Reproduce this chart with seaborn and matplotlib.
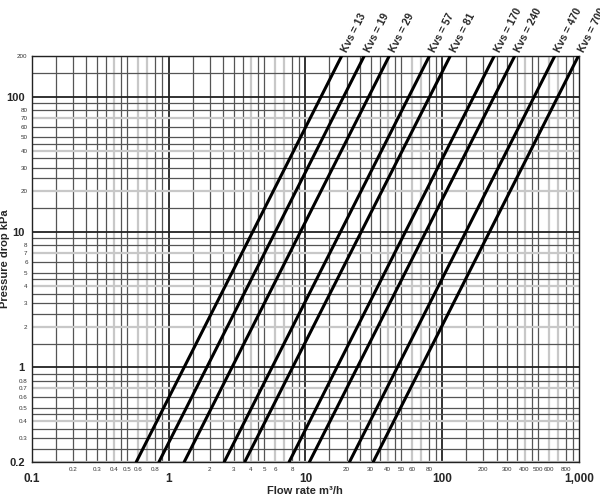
import numpy as np
import pandas as pd
import matplotlib
matplotlib.use("Agg")
import matplotlib.pyplot as plt
import seaborn as sns

# valve curves: Kvs value and flow (m3/h) read at bottom (0.2 kPa) and top (200 kPa)
kvs = [13, 19, 29, 57, 81, 170, 240, 470, 700]
flow_low = [0.58, 0.85, 1.3, 2.55, 3.6, 7.6, 10.7, 21.0, 31.3]
flow_high = [18.4, 26.9, 41.0, 80.6, 114.5, 240.0, 339.0, 665.0, 990.0]
dp_ends = [0.2, 200.0]

x_major = [0.1, 1, 10, 100, 1000]
x_major_labels = ["0.1", "1", "10", "100", "1,000"]
x_minor = [0.2, 0.3, 0.4, 0.5, 0.6, 0.8, 2, 3, 4, 5, 6, 8,
           20, 30, 40, 50, 60, 80, 200, 300, 400, 500, 600, 800]
y_major = [0.2, 1, 10, 100]
y_major_labels = ["0.2", "1", "10", "100"]
y_minor = [0.3, 0.4, 0.5, 0.6, 0.7, 0.8, 2, 3, 4, 5, 6, 7, 8,
           20, 30, 40, 50, 60, 70, 80, 200]

rows = []
for k, lo, hi in zip(kvs, flow_low, flow_high):
    rows.append({"kvs": "Kvs = %d" % k, "flow": lo, "dp": dp_ends[0]})
    rows.append({"kvs": "Kvs = %d" % k, "flow": hi, "dp": dp_ends[1]})
df = pd.DataFrame(rows)

sns.set_style("white")
plt.rcParams["font.family"] = ["Liberation Sans", "DejaVu Sans"]

fig = plt.figure(figsize=(6, 5), dpi=100)
ax = fig.add_axes([0.053, 0.076, 0.912, 0.812])
ax.set_xscale("log")
ax.set_yscale("log")
ax.set_xlim(0.1, 1000)
ax.set_ylim(0.2, 200)

# dense engineering grid
steps = [1, 1.5, 2, 2.5, 3, 3.5, 4, 4.5, 5, 6, 7, 8, 9]
light_x = {4, 6, 7}
light_y = {2, 4, 7}
for dec in [0.1, 1, 10, 100]:
    for s in steps:
        v = dec * s
        if s == 1:
            ax.axvline(v, color="#222222", lw=1.3, zorder=1)
        elif s in light_x:
            ax.axvline(v, color="#c8c8c8", lw=1.6, zorder=1)
        else:
            ax.axvline(v, color="#555555", lw=0.9, zorder=1)
for dec in [0.1, 1, 10, 100]:
    for s in steps:
        v = dec * s
        if v < 0.2 or v > 200:
            continue
        if s == 1:
            ax.axhline(v, color="#222222", lw=1.3, zorder=1)
        elif s in light_y:
            ax.axhline(v, color="#c8c8c8", lw=1.6, zorder=1)
        else:
            ax.axhline(v, color="#555555", lw=0.9, zorder=1)

sns.lineplot(data=df, x="flow", y="dp", hue="kvs", palette=["black"] * len(kvs),
             legend=False, lw=2.2, ax=ax, zorder=3)

ax.set_xticks(x_major)
ax.set_xticklabels(x_major_labels, fontsize=8.5, fontweight="bold")
ax.set_xticks(x_minor, minor=True)
ax.set_xticklabels([("%g" % v) for v in x_minor], minor=True, fontsize=4.5, color="#333333")
ax.set_yticks(y_major)
ax.set_yticklabels(y_major_labels, fontsize=8, fontweight="bold")
ax.set_yticks(y_minor, minor=True)
ax.set_yticklabels([("%g" % v) for v in y_minor], minor=True, fontsize=4.5, color="#333333")
ax.tick_params(axis="x", which="major", length=0, pad=8)
ax.tick_params(axis="x", which="minor", length=0, pad=3.5)
ax.tick_params(axis="y", which="major", length=0, pad=5)
ax.tick_params(axis="y", which="minor", length=0, pad=3)

ax.set_xlabel("Flow rate m³/h", fontsize=8, fontweight="bold", va="center")
ax.xaxis.set_label_coords(0.5, -0.072)
ax.set_ylabel("Pressure drop kPa", fontsize=8, fontweight="bold", va="center")
ax.yaxis.set_label_coords(-0.049, 0.5)

for sp in ax.spines.values():
    sp.set_color("#222222")
    sp.set_linewidth(1.0)

# labels along the top end of each curve
p0 = ax.transData.transform((flow_low[0], dp_ends[0]))
p1 = ax.transData.transform((flow_high[0], dp_ends[1]))
ang = np.degrees(np.arctan2(p1[1] - p0[1], p1[0] - p0[0]))
for k, hi in zip(kvs, flow_high):
    ax.annotate("Kvs = %d" % k, xy=(hi, dp_ends[1]), xytext=(2, 3),
                textcoords="offset points", rotation=ang, rotation_mode="anchor",
                ha="left", va="center", fontsize=7.5, fontweight="bold",
                annotation_clip=False)

fig.savefig("out.png", dpi=100)
